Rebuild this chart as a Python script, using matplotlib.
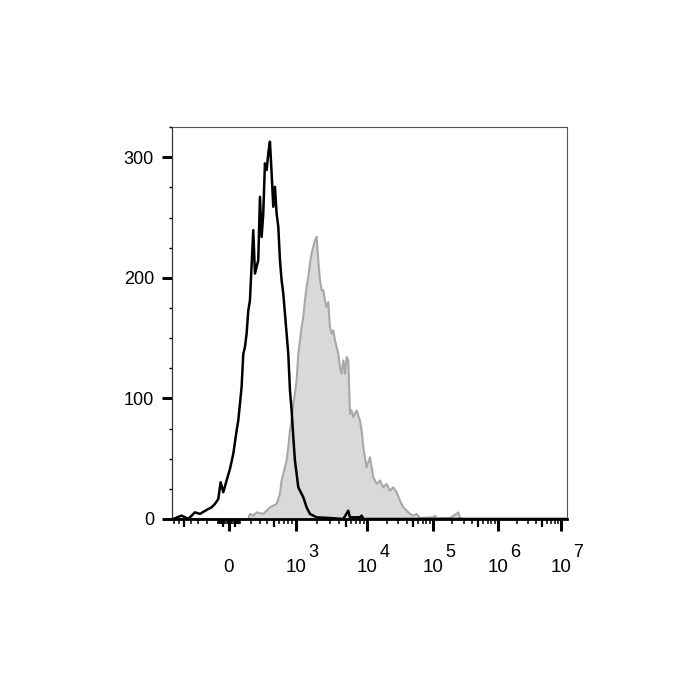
import numpy as np
import matplotlib.pyplot as plt
from matplotlib.ticker import FixedLocator, MultipleLocator

plt.rcParams['font.family'] = ['Liberation Sans', 'DejaVu Sans']

# x is in display channels (0..1024 across the axis), y is event count
black_ch = [0, 2.6, 24.2, 41.5, 58.9, 71.8, 89.2, 102.1, 110.8, 119.5, 125.5, 132.4, 141.1,
            149.8, 158.4, 167.1, 171.4, 180.0, 184.4, 188.7, 193.0, 197.4, 201.7, 210.3,
            214.7, 223.3, 227.7, 232.0, 236.3, 240.6, 245.0, 249.3, 253.6, 258.0, 262.3,
            266.6, 270.9, 275.3, 279.6, 283.9, 288.2, 292.6, 296.9, 301.2, 305.6, 309.9,
            314.2, 318.5, 322.9, 327.2, 331.5, 340.2, 348.8, 357.5, 374.8, 409.4, 444.1,
            457.0, 461.4, 487.3, 491.7, 496.0, 1024]
black_counts = [0, 0, 2.8, 0, 5.5, 4.2, 7.5, 9.7, 12.5, 16.6, 30.5, 22.2, 31.9,
                41.6, 54.0, 73.4, 81.7, 109.4, 137.0, 142.7, 153.7, 173.0, 181.4, 239.6,
                203.6, 214.7, 267.3, 234.0, 253.5, 295.0, 289.5, 303.3, 313.0, 286.7, 259.0,
                275.6, 253.5, 242.4, 214.7, 198.0, 187.0, 170.4, 153.7, 137.1, 106.6, 90.0,
                67.9, 48.5, 37.4, 26.3, 23.5, 18.0, 9.7, 4.2, 1.4, 0.8, 0,
                6.9, 1.4, 1.4, 2.8, 0, 0]

gray_ch = [0, 197.4, 201.7, 210.3, 219.0, 236.3, 245.0, 253.6, 262.3, 270.9, 279.6, 283.9,
           288.2, 296.9, 301.2, 305.6, 309.9, 314.2, 318.5, 322.9, 327.2, 331.5, 335.9,
           340.2, 344.5, 348.8, 353.2, 357.5, 361.8, 366.1, 370.5, 374.8, 379.1, 383.5,
           387.8, 392.1, 396.4, 400.8, 405.1, 409.4, 413.7, 418.1, 422.4, 426.7, 431.1,
           435.4, 439.7, 444.1, 448.4, 452.7, 457.0, 461.4, 465.7, 470.0, 478.7, 487.3,
           491.7, 496.0, 504.6, 513.3, 522.0, 530.6, 539.3, 547.9, 556.6, 565.2, 573.9,
           582.5, 591.2, 599.9, 608.5, 617.2, 625.8, 634.5, 643.1, 677.8, 682.1, 686.5,
           721.1, 742.8, 747.1, 755.8, 1024]
gray_counts = [0, 0, 4.2, 2.8, 5.5, 4.2, 6.9, 9.7, 11.1, 12.5, 20.8, 31.9,
               37.4, 48.5, 59.6, 73.4, 81.7, 95.6, 103.9, 115.0, 137.1, 148.2, 159.3,
               167.6, 181.4, 192.5, 200.8, 211.9, 220.2, 225.8, 231.3, 234.1, 214.7, 198.0,
               189.8, 189.8, 181.4, 175.9, 180.0, 159.3, 153.7, 156.5, 148.2, 142.7, 137.1,
               126.0, 120.5, 131.6, 120.5, 134.3, 131.6, 87.3, 90.0, 84.5, 90.0, 81.7,
               73.4, 59.6, 42.9, 51.2, 34.6, 29.1, 31.9, 26.3, 29.1, 23.5, 26.3,
               22.2, 15.2, 9.7, 6.9, 4.2, 2.8, 4.2, 0.8, 1.4, 2.8, 0.6,
               0.8, 5.5, 0.8, 0, 0]

# axis layout (channel of 0 and of each decade 10^3..10^7)
ZERO_CH = 147.2
DECADE_CH = [320.3, 506.4, 676.0, 844.8, 1009.3]
LIN_WIDTH = 300.0
x_labels = ['0', '10', '10', '10', '10', '10']
x_exponents = ['', '3', '4', '5', '6', '7']


def to_channel(v):
    if abs(v) <= 1000:
        a = (DECADE_CH[0] - ZERO_CH) / np.arcsinh(1000 / LIN_WIDTH)
        return ZERO_CH + a * np.arcsinh(v / LIN_WIDTH)
    d = np.log10(v) - 3
    i = min(int(d), len(DECADE_CH) - 2)
    return DECADE_CH[i] + (DECADE_CH[i + 1] - DECADE_CH[i]) * (d - i)


def main():
    fig = plt.figure(figsize=(7, 7), dpi=100)
    ax = fig.add_axes([0.2461, 0.2586, 0.5634, 0.5600])

    ax.fill_between(gray_ch, gray_counts, color='#d9d9d9', lw=0)
    ax.plot(gray_ch, gray_counts, color='#a8a8a8', lw=1.5)
    ax.plot(black_ch, black_counts, color='black', lw=1.8)

    ax.set_xlim(0, 1024)
    ax.set_ylim(0, 325.2)

    # ticks
    major = [to_channel(0)] + DECADE_CH
    medium = []
    minor = []
    for s in (1, -1):
        for k in range(1, 10):
            for base in (10, 100):
                v = s * k * base
                (medium if k == 5 else minor).append(to_channel(v))
    for e in range(3, 7):
        for k in range(2, 10):
            (medium if k == 5 else minor).append(to_channel(k * 10 ** e))
    minor = [c for c in minor if 0 < c < 1024]
    medium = [c for c in medium if 0 < c < 1024]

    ax.xaxis.set_major_locator(FixedLocator(major))
    ax.xaxis.set_minor_locator(FixedLocator(minor))
    ax.set_xticklabels(x_labels)
    ax.tick_params(axis='x', which='major', length=8.6, width=2.2, pad=29.5, labelsize=13.5)
    ax.tick_params(axis='x', which='minor', length=3.6, width=1.1)
    for t in ax.xaxis.get_major_ticks():
        t.label1.set_verticalalignment('baseline')

    # big superscripts like the cytometer export
    for pos, ex in zip(major, x_exponents):
        if ex:
            ax.annotate(ex, xy=(pos, 0), xycoords=('data', 'axes fraction'),
                        xytext=(8.8, -27.1), textcoords='offset points',
                        ha='left', va='baseline', fontsize=13)

    sec = ax.secondary_xaxis('bottom')
    sec.set_xticks(medium)
    sec.tick_params(length=5.8, width=1.6, labelbottom=False)
    sec.spines['bottom'].set_visible(False)

    ax.set_yticks([0, 100, 200, 300])
    ax.yaxis.set_minor_locator(MultipleLocator(25))
    ax.tick_params(axis='y', which='major', length=7.2, width=2.1, pad=6, labelsize=13)
    ax.tick_params(axis='y', which='minor', length=2.4, width=1)

    for side in ('top', 'right'):
        ax.spines[side].set_color('#555555')
        ax.spines[side].set_linewidth(0.8)
    ax.spines['left'].set_color('#333333')
    ax.spines['left'].set_linewidth(0.9)
    ax.spines['bottom'].set_linewidth(2)

    fig.savefig('out.png', dpi=100, facecolor='white')


if __name__ == '__main__':
    main()
